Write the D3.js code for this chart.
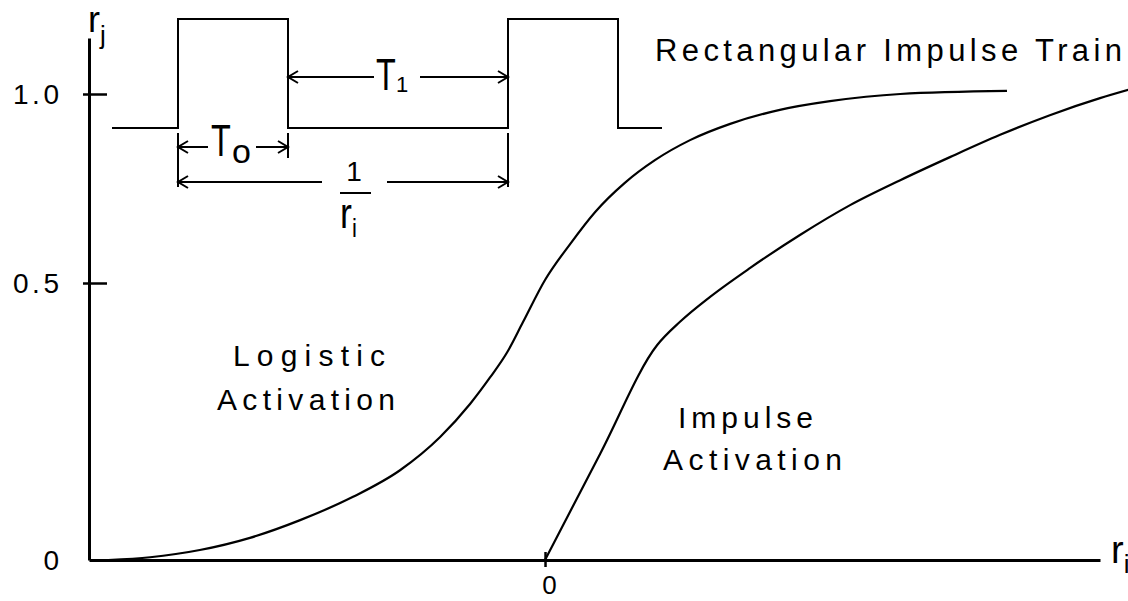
<!DOCTYPE html>
<html>
<head>
<meta charset="utf-8">
<script src="https://cdn.jsdelivr.net/npm/d3@7"></script>
<style>
  html, body { margin: 0; padding: 0; background: #fff; }
  svg { display: block; }
  text { font-family: "Liberation Sans", Arial, Helvetica, sans-serif; fill: #000; }
</style>
</head>
<body>
<script>
// ---------- data ----------
// input r_i (x) values, scaled so 0 is the threshold
const logisticX = [-0.958, -0.866, -0.757, -0.647, -0.537, -0.421, -0.318, -0.230, -0.164, -0.121, -0.083, -0.048, 0.0, 0.055, 0.110, 0.175, 0.241, 0.318, 0.406, 0.515, 0.625, 0.779, 1.013];
const logisticY = [0.0, 0.005, 0.018, 0.040, 0.072, 0.114, 0.162, 0.222, 0.282, 0.329, 0.375, 0.430, 0.508, 0.603, 0.688, 0.765, 0.825, 0.878, 0.921, 0.958, 0.981, 1.0, 1.008];

const impulseX = [0.0, 0.121, 0.246, 0.296, 0.362, 0.450, 0.559, 0.669, 0.779, 0.888, 0.998, 1.107, 1.217, 1.279];
const impulseY = [0.0, 0.192, 0.388, 0.430, 0.475, 0.540, 0.627, 0.706, 0.772, 0.833, 0.892, 0.944, 0.989, 1.011];

// rectangular impulse train (time in units of T0, level 0/1)
const trainT = [-0.6, 0, 0, 1, 1, 3, 3, 4, 4, 4.4];
const trainLevel = [0, 0, 1, 1, 0, 0, 1, 1, 0, 0];
const T0 = 1, period = 3; // 1/r_i

const yTickValues = [0, 0.5, 1.0];
const yTickLabels = ["0", "0.5", "1.0"];
const xTickValues = [0];
const xTickLabels = ["0"];

// ---------- drawing ----------
const W = 1128, H = 601;
const svg = d3.select("body").append("svg").attr("width", W).attr("height", H);

const x = d3.scaleLinear().domain([-1, 1.217]).range([89, 1100]);
const y = d3.scaleLinear().domain([0, 0.5, 1.0, 1.148]).range([560, 283, 94, 38]);

// y axis
const yAxis = d3.axisLeft(y).tickValues(yTickValues)
  .tickFormat((d, i) => yTickLabels[i]).tickSizeOuter(0);
const gy = svg.append("g").attr("transform", "translate(89,0)").call(yAxis);
gy.select(".domain").attr("stroke", "#000").attr("stroke-width", 3);
gy.selectAll(".tick line").attr("x1", -6).attr("x2", 18).attr("stroke", "#000").attr("stroke-width", 2.5)
  .filter(d => d === 0).remove();
gy.selectAll(".tick text").attr("x", -30).attr("dy", "0.35em")
  .attr("font-size", 28).attr("font-family", null)
  .each(function(d) { if (d !== 0) d3.select(this).attr("textLength", 46).attr("lengthAdjust", "spacing"); });

// x axis
const xAxis = d3.axisBottom(x).tickValues(xTickValues)
  .tickFormat((d, i) => xTickLabels[i]).tickSizeOuter(0);
const gx = svg.append("g").attr("transform", "translate(0,560)").call(xAxis);
gx.select(".domain").attr("stroke", "#000").attr("stroke-width", 3);
gx.selectAll(".tick line").attr("y1", -8).attr("y2", 7).attr("stroke", "#000").attr("stroke-width", 2.5);
gx.selectAll(".tick text").attr("y", 34).attr("dy", 0).attr("dx", 4)
  .attr("font-size", 26).attr("font-family", null);

// curves
const line = d3.line().x(d => x(d[0])).y(d => y(d[1])).curve(d3.curveMonotoneX);
svg.append("path").datum(d3.zip(logisticX, logisticY))
  .attr("d", line).attr("fill", "none").attr("stroke", "#000").attr("stroke-width", 2.2);
svg.append("path").datum(d3.zip(impulseX, impulseY))
  .attr("d", line).attr("fill", "none").attr("stroke", "#000").attr("stroke-width", 2.2);

// axis labels r_j, r_i
const rj = svg.append("text").attr("x", 88).attr("y", 32).attr("font-size", 36);
rj.append("tspan").text("r");
rj.append("tspan").attr("font-size", 26).attr("dy", 12).text("j");
const ri = svg.append("text").attr("x", 1111).attr("y", 563).attr("font-size", 38);
ri.append("tspan").text("r");
ri.append("tspan").attr("font-size", 26).attr("dy", 10).text("i");

// ---------- inset: rectangular impulse train ----------
const tx = d3.scaleLinear().domain([0, 1]).range([178, 288]);
const ty = d3.scaleLinear().domain([0, 1]).range([128, 19]);
const ink = g => g.attr("stroke", "#000").attr("fill", "none").attr("stroke-width", 2);

svg.append("path").datum(d3.zip(trainT, trainLevel))
  .attr("d", d3.line().x(d => tx(d[0])).y(d => ty(d[1]))).call(ink);

// extension lines
function vline(xp, y1, y2) { svg.append("line").attr("x1", xp).attr("x2", xp).attr("y1", y1).attr("y2", y2).call(ink); }
vline(tx(0), 133, 187);
vline(tx(T0), 133, 158);
vline(tx(period), 133, 187);

function head(xp, yp, dir) { // dir -1 points left, +1 points right
  svg.append("path")
    .attr("d", `M${xp - dir * 10},${yp - 6}L${xp},${yp}L${xp - dir * 10},${yp + 6}`).call(ink);
}
function dimArrow(xa, xb, yp, gapA, gapB) {
  svg.append("line").attr("x1", xa).attr("x2", gapA).attr("y1", yp).attr("y2", yp).call(ink);
  svg.append("line").attr("x1", gapB).attr("x2", xb).attr("y1", yp).attr("y2", yp).call(ink);
  head(xa, yp, -1); head(xb, yp, 1);
}
// T0
dimArrow(tx(0), tx(T0), 147, 208, 256);
// T1
dimArrow(tx(T0), tx(period), 77, 374, 420);
// 1/r_i
dimArrow(tx(0), tx(period), 182, 322, 387);

// labels in inset
function tLabel(xp, yp, sub, subSize, subX, subY) {
  svg.append("g").attr("transform", `translate(${xp},${yp}) scale(0.72,1)`)
    .append("text").attr("font-size", 45).text("T");
  svg.append("text").attr("x", subX).attr("y", subY).attr("font-size", subSize).text(sub);
}
tLabel(211, 156, "o", 34, 232, 163);
tLabel(376, 90, "1", 22, 396, 92);

// fraction 1/r_i
svg.append("text").attr("x", 354).attr("y", 181).attr("text-anchor", "middle").attr("font-size", 28).text("1");
svg.append("line").attr("x1", 340).attr("x2", 371).attr("y1", 193).attr("y2", 193).call(ink);
const fr = svg.append("g").attr("transform", "translate(340,228) scale(0.85,1)");
const frt = fr.append("text").attr("font-size", 42);
frt.append("tspan").text("r");
frt.append("tspan").attr("font-size", 26).attr("dy", 9).text("i");

// annotations
function label(txt, xp, yp, len, size) {
  svg.append("text").attr("x", xp).attr("y", yp).attr("font-size", size)
    .attr("textLength", len).attr("lengthAdjust", "spacing").text(txt);
}
label("Rectangular Impulse Train", 655, 61, 467, 31);
label("Logistic", 233, 366, 152, 30);
label("Activation", 217, 410, 178, 30);
label("Impulse", 678, 428, 135, 30);
label("Activation", 663, 470, 179, 30);
</script>
</body>
</html>
